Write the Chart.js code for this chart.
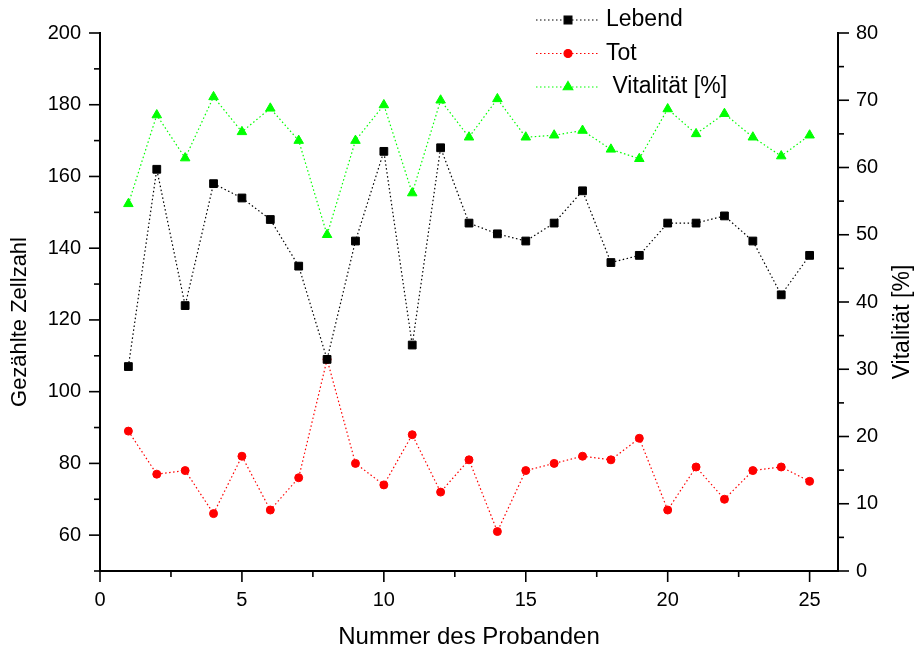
<!DOCTYPE html>
<html>
<head>
<meta charset="utf-8">
<title>Zellzahl und Vitalität</title>
<script src="https://cdn.jsdelivr.net/npm/chart.js@4.4.0/dist/chart.umd.min.js"></script>
<style>
  html, body { margin: 0; padding: 0; background: #fff; }
  canvas { display: block; }
</style>
</head>
<body>
<canvas id="zellChart" width="917" height="654"></canvas>
<script>
// Werte
const probanden = [1, 2, 3, 4, 5, 6, 7, 8, 9, 10, 11, 12, 13, 14, 15, 16, 17, 18, 19, 20, 21, 22, 23, 24, 25];
const lebend = [107, 162, 124, 158, 154, 148, 135, 109, 142, 167, 113, 168, 147, 144, 142, 147, 156, 136, 138, 147, 147, 149, 142, 127, 138];
const tot = [89, 77, 78, 66, 82, 67, 76, 109, 80, 74, 88, 72, 81, 61, 78, 80, 82, 81, 87, 67, 79, 70, 78, 79, 75];
const vitalitaet = [54.6, 67.8, 61.4, 70.5, 65.3, 68.8, 64.0, 50.0, 64.0, 69.3, 56.2, 70.0, 64.5, 70.2, 64.5, 64.8, 65.5, 62.7, 61.3, 68.7, 65.0, 68.0, 64.5, 61.7, 64.8];

// Achsenteilung (Haupt- und Nebenstriche)
const xTicks = [0, 2.5, 5, 7.5, 10, 12.5, 15, 17.5, 20, 22.5, 25];
const xLabels = [0, 5, 10, 15, 20, 25];
const yLeftTicks = [50, 60, 70, 80, 90, 100, 110, 120, 130, 140, 150, 160, 170, 180, 190, 200];
const yLeftLabels = [60, 80, 100, 120, 140, 160, 180, 200];
const yRightTicks = [0, 5, 10, 15, 20, 25, 30, 35, 40, 45, 50, 55, 60, 65, 70, 75, 80];
const yRightLabels = [0, 10, 20, 30, 40, 50, 60, 70, 80];

const FONT = '"Liberation Sans", Arial, sans-serif';

function toPoints(values) {
  return values.map((v, i) => ({ x: probanden[i], y: v }));
}

// Striche außen an den Achsen
const tickMarks = {
  id: 'tickMarks',
  afterDraw(chart) {
    const { ctx, chartArea, scales } = chart;
    ctx.save();
    ctx.strokeStyle = '#000';
    ctx.lineWidth = 1.6;

    xTicks.forEach(v => {
      const px = scales.x.getPixelForValue(v);
      const len = xLabels.includes(v) ? 11 : 6;
      ctx.beginPath();
      ctx.moveTo(px, chartArea.bottom);
      ctx.lineTo(px, chartArea.bottom + len);
      ctx.stroke();
    });

    yLeftTicks.forEach(v => {
      const py = scales.y.getPixelForValue(v);
      const len = yLeftLabels.includes(v) ? 11 : 6;
      ctx.beginPath();
      ctx.moveTo(chartArea.left, py);
      ctx.lineTo(chartArea.left - len, py);
      ctx.stroke();
    });

    yRightTicks.forEach(v => {
      const py = scales.y1.getPixelForValue(v);
      const len = yRightLabels.includes(v) ? 11 : 6;
      ctx.beginPath();
      ctx.moveTo(chartArea.right, py);
      ctx.lineTo(chartArea.right + len, py);
      ctx.stroke();
    });
    ctx.restore();
  }
};

// beide senkrechten Achsentitel von unten nach oben lesbar
const yTitles = {
  id: 'yTitles',
  afterDraw(chart) {
    const ctx = chart.ctx;
    const cy = 322;
    const items = [
      { text: 'Gezählte Zellzahl', x: 20, size: 22 },
      { text: 'Vitalität [%]', x: 903, size: 23 }
    ];
    items.forEach(t => {
      ctx.save();
      ctx.translate(t.x, cy);
      ctx.rotate(-Math.PI / 2);
      ctx.fillStyle = '#000';
      ctx.font = t.size + 'px ' + FONT;
      ctx.textAlign = 'center';
      ctx.textBaseline = 'middle';
      ctx.fillText(t.text, 0, 0);
      ctx.restore();
    });
  }
};

// Legende oben in der Mitte, wie im Original
const legendRows = [20, 53.5, 87];
const legendBox = {
  id: 'legendBox',
  afterDraw(chart) {
    const ctx = chart.ctx;
    chart.data.datasets.forEach((ds, i) => {
      const y = legendRows[i];
      ctx.save();
      ctx.strokeStyle = ds.borderColor;
      ctx.lineWidth = ds.borderWidth;
      ctx.setLineDash(ds.borderDash);
      ctx.beginPath();
      ctx.moveTo(536, y);
      ctx.lineTo(600, y);
      ctx.stroke();
      ctx.setLineDash([]);
      ctx.fillStyle = ds.backgroundColor;
      ctx.strokeStyle = ds.pointBorderColor;
      Chart.helpers.drawPoint(ctx, {
        pointStyle: ds.pointStyle,
        radius: ds.pointRadius,
        borderWidth: ds.pointBorderWidth,
        rotation: 0
      }, 568, y);
      ctx.fillStyle = '#000';
      ctx.font = '23px ' + FONT;
      ctx.textBaseline = 'middle';
      ctx.textAlign = 'left';
      ctx.fillText(ds.label, 606, y);
      ctx.restore();
    });
  }
};

const ctx = document.getElementById('zellChart').getContext('2d');

new Chart(ctx, {
  type: 'line',
  data: {
    datasets: [
      {
        label: 'Lebend',
        data: toPoints(lebend),
        yAxisID: 'y',
        borderColor: '#000000',
        backgroundColor: '#000000',
        pointBorderColor: '#000000',
        borderWidth: 1.2,
        borderDash: [1.5, 2.5],
        pointStyle: 'rect',
        pointRadius: 5.5,
        pointBorderWidth: 1,
        tension: 0
      },
      {
        label: 'Tot',
        data: toPoints(tot),
        yAxisID: 'y',
        borderColor: '#ff0000',
        backgroundColor: '#ff0000',
        pointBorderColor: '#ff0000',
        borderWidth: 1.2,
        borderDash: [1.5, 2.5],
        pointStyle: 'circle',
        pointRadius: 4,
        pointBorderWidth: 1,
        tension: 0
      },
      {
        label: ' Vitalität [%]',
        data: toPoints(vitalitaet),
        yAxisID: 'y1',
        borderColor: '#00ff00',
        backgroundColor: '#00ff00',
        pointBorderColor: '#00ff00',
        borderWidth: 1.2,
        borderDash: [1.5, 2.5],
        pointStyle: 'triangle',
        pointRadius: 5.5,
        pointBorderWidth: 1,
        tension: 0
      }
    ]
  },
  options: {
    responsive: false,
    animation: false,
    devicePixelRatio: 1,
    layout: { padding: { top: 33, left: 0, right: 0, bottom: 0 } },
    plugins: {
      legend: { display: false },
      tooltip: { enabled: false }
    },
    scales: {
      x: {
        type: 'linear',
        min: 0,
        max: 26,
        afterBuildTicks: s => { s.ticks = xTicks.map(v => ({ value: v })); },
        afterFit: s => { s.height = 83; },
        grid: { display: false, drawTicks: false },
        border: { display: true, color: '#000', width: 2 },
        ticks: {
          autoSkip: false,
          maxRotation: 0,
          padding: 17,
          color: '#000',
          font: { family: FONT, size: 20 },
          callback: v => xLabels.includes(v) ? String(v) : ''
        },
        title: {
          display: true,
          text: 'Nummer des Probanden',
          color: '#000',
          font: { family: FONT, size: 24 },
          padding: { top: 0, bottom: 2 }
        }
      },
      y: {
        type: 'linear',
        position: 'left',
        min: 50,
        max: 200,
        afterBuildTicks: s => { s.ticks = yLeftTicks.map(v => ({ value: v })); },
        afterFit: s => { s.width = 100; },
        grid: { display: false, drawTicks: false },
        border: { display: true, color: '#000', width: 2 },
        ticks: {
          autoSkip: false,
          padding: 19,
          color: '#000',
          font: { family: FONT, size: 20 },
          callback: v => yLeftLabels.includes(v) ? String(v) : ''
        }
      },
      y1: {
        type: 'linear',
        position: 'right',
        min: 0,
        max: 80,
        afterBuildTicks: s => { s.ticks = yRightTicks.map(v => ({ value: v })); },
        afterFit: s => { s.width = 79; },
        grid: { display: false, drawTicks: false },
        border: { display: true, color: '#000', width: 2 },
        ticks: {
          autoSkip: false,
          padding: 18,
          color: '#000',
          font: { family: FONT, size: 20 },
          callback: v => yRightLabels.includes(v) ? String(v) : ''
        }
      }
    }
  },
  plugins: [tickMarks, yTitles, legendBox]
});
</script>
</body>
</html>
